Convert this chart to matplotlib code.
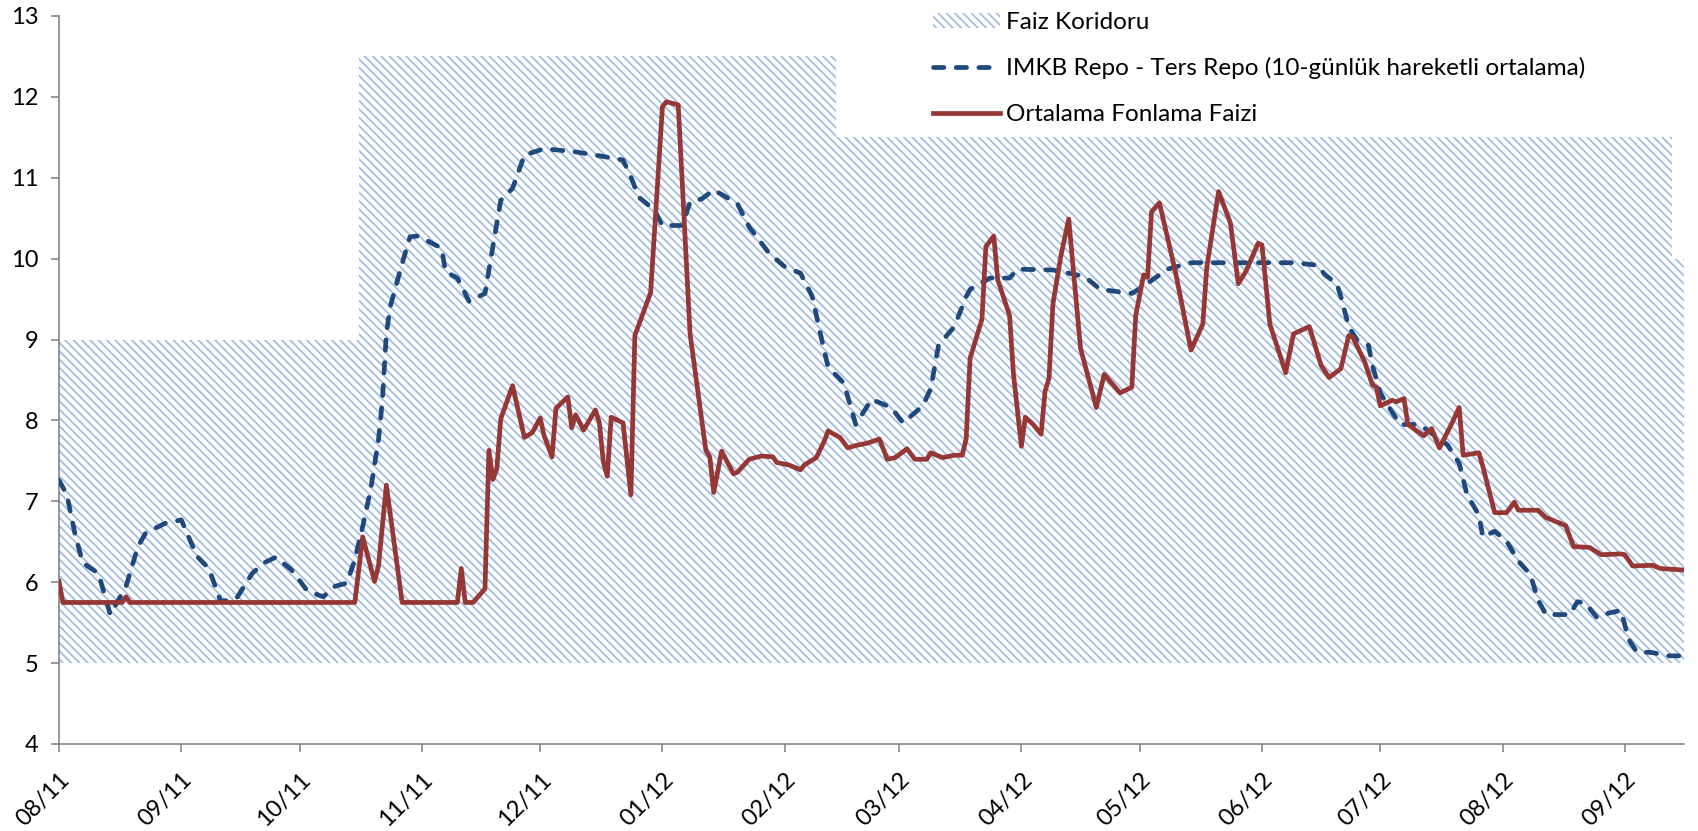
import numpy as np
import matplotlib
matplotlib.use("Agg")
from matplotlib import pyplot as plt
import matplotlib.dates as mdates

plt.rcParams['font.family'] = ['Lato', 'DejaVu Sans']
plt.rcParams['hatch.linewidth'] = 1.3

# Day offsets are counted from 1 Aug 2011
start = np.datetime64('2011-08-01')

# Interest rate corridor (lower 5, upper bound changes step-wise)
corridor_days = [0, 76, 197, 409, 412]
corridor_upper = [9.0, 12.5, 11.5, 10.0, 10.0]
corridor_lower = 5.0

# IMKB Repo - Ters Repo (10-day moving average)
repo_days = [0, 2, 4, 6, 10, 13, 17, 20, 22, 27, 31, 35, 38, 41, 45, 49, 52,
             55, 59, 63, 67, 70, 73, 75, 77, 79, 81, 82, 83, 84, 87, 89, 91,
             97, 98, 101, 104, 108, 110, 112, 115, 118, 123, 131, 136, 143,
             145, 147, 151, 153, 158, 160, 163, 166, 172, 175, 180, 184, 188,
             191, 193, 195, 199, 202, 206, 211, 214, 219, 221, 223, 227, 230,
             231, 236, 241, 243, 252, 260, 264, 272, 275, 279, 281, 287, 313,
             319, 321, 324, 325, 327, 329, 332, 333, 335, 337, 340, 345, 348,
             352, 355, 357, 360, 361, 364, 367, 370, 373, 375, 377, 383, 385,
             387, 390, 393, 396, 398, 400, 404, 408, 412]
repo_vals = [7.26, 7.08, 6.61, 6.24, 6.11, 5.60, 5.95, 6.44, 6.61, 6.73, 6.77,
             6.32, 6.17, 5.76, 5.80, 6.11, 6.24, 6.31, 6.15, 5.89, 5.82, 5.95,
             5.99, 6.28, 6.69, 7.14, 7.76, 8.25, 9.08, 9.41, 9.94, 10.27,
             10.28, 10.13, 9.84, 9.76, 9.47, 9.57, 10.15, 10.72, 10.87, 11.28,
             11.36, 11.32, 11.28, 11.22, 11.01, 10.76, 10.60, 10.41, 10.41,
             10.70, 10.74, 10.85, 10.68, 10.39, 10.07, 9.90, 9.82, 9.53, 9.08,
             8.66, 8.46, 7.95, 8.26, 8.16, 7.97, 8.18, 8.39, 8.93, 9.16, 9.53,
             9.62, 9.76, 9.76, 9.87, 9.86, 9.78, 9.62, 9.57, 9.66, 9.80, 9.87,
             9.95, 9.95, 9.92, 9.80, 9.69, 9.53, 9.16, 9.00, 8.93, 8.68, 8.34,
             8.18, 7.95, 7.95, 7.84, 7.70, 7.47, 7.08, 6.83, 6.56, 6.63, 6.51,
             6.26, 6.10, 5.78, 5.60, 5.60, 5.76, 5.74, 5.56, 5.62, 5.65, 5.29,
             5.14, 5.13, 5.09, 5.09]

# Ortalama Fonlama Faizi
fund_days = [0, 1, 16, 17, 18, 75, 77, 80, 81, 83, 87, 101, 102, 103, 105,
             108, 109, 110, 111, 112, 115, 118, 120, 122, 123, 125, 126, 129,
             130, 131, 133, 136, 137, 138, 139, 140, 143, 145, 146, 150, 153,
             154, 157, 160, 164, 165, 166, 168, 171, 172, 175, 178, 181, 182,
             185, 188, 189, 192, 194, 195, 198, 200, 202, 205, 208, 210, 212,
             215, 217, 220, 221, 224, 227, 229, 230, 231, 234, 235, 237, 238,
             241, 242, 244, 245, 247, 249, 250, 251, 252, 254, 256, 259, 263,
             265, 269, 272, 273, 275, 276, 277, 279, 283, 287, 290, 291, 294,
             297, 299, 301, 304, 305, 307, 311, 313, 317, 320, 322, 325, 327,
             328, 331, 333, 334, 335, 338, 339, 341, 342, 346, 348, 350, 353,
             355, 356, 360, 361, 364, 367, 369, 370, 375, 377, 382, 384, 388,
             391, 396, 397, 399, 404, 406, 412]
fund_vals = [6.01, 5.75, 5.75, 5.82, 5.75, 5.75, 6.56, 6.01, 6.20, 7.20, 5.75,
             5.75, 6.17, 5.75, 5.75, 5.92, 7.63, 7.27, 7.40, 8.02, 8.43, 7.79,
             7.85, 8.03, 7.81, 7.55, 8.15, 8.29, 7.91, 8.07, 7.88, 8.13, 7.97,
             7.49, 7.31, 8.04, 7.97, 7.08, 9.05, 9.58, 11.88, 11.94, 11.90,
             9.07, 7.63, 7.55, 7.11, 7.62, 7.34, 7.36, 7.52, 7.56, 7.55, 7.48,
             7.45, 7.39, 7.45, 7.54, 7.74, 7.87, 7.79, 7.66, 7.69, 7.72, 7.77,
             7.52, 7.54, 7.65, 7.52, 7.52, 7.60, 7.54, 7.57, 7.57, 7.77, 8.77,
             9.25, 10.15, 10.28, 9.74, 9.30, 8.57, 7.68, 8.04, 7.95, 7.83,
             8.36, 8.52, 9.44, 10.03, 10.49, 8.89, 8.16, 8.57, 8.34, 8.41,
             9.30, 9.80, 9.77, 10.58, 10.69, 9.85, 8.87, 9.19, 9.89, 10.83,
             10.44, 9.69, 9.85, 10.19, 10.17, 9.19, 8.59, 9.07, 9.16, 8.68,
             8.53, 8.64, 9.05, 9.03, 8.73, 8.44, 8.41, 8.18, 8.25, 8.23, 8.27,
             7.95, 7.81, 7.90, 7.66, 7.95, 8.16, 7.57, 7.60, 7.43, 6.86, 6.86,
             6.99, 6.89, 6.89, 6.80, 6.70, 6.44, 6.43, 6.34, 6.35, 6.34, 6.20,
             6.21, 6.17, 6.15]


def to_dates(days):
    return start + np.array(days).astype('timedelta64[D]')


hatch_blue = '#A3BCE0'
repo_blue = '#1F497D'
fund_red = '#953735'
axis_grey = '#868686'

fig = plt.figure(figsize=(16.98, 8.31), dpi=100)
ax = fig.add_axes([59 / 1698, 1 - 744 / 831, 1625 / 1698, 728 / 831])

ax.fill_between(to_dates(corridor_days), corridor_lower, corridor_upper,
                step='post', facecolor='white', edgecolor=hatch_blue,
                hatch='\\\\\\\\', linewidth=0, label='Faiz Koridoru', zorder=1)
ax.plot(to_dates(repo_days), repo_vals, color=repo_blue, lw=3.4,
        dashes=(2.2, 2.6), dash_capstyle='round',
        label='IMKB Repo - Ters Repo (10-günlük hareketli ortalama)', zorder=3)
ax.plot(to_dates(fund_days), fund_vals, color=fund_red, lw=3.4,
        solid_joinstyle='round', label='Ortalama Fonlama Faizi', zorder=4)

ax.set_ylim(4, 13)
ax.set_yticks(range(4, 14))
ax.set_xlim(np.datetime64('2011-08-01'), np.datetime64('2012-09-16'))
ax.xaxis.set_major_locator(mdates.MonthLocator())
ax.xaxis.set_major_formatter(mdates.DateFormatter('%m/%y'))

for side in ('top', 'right'):
    ax.spines[side].set_visible(False)
for side in ('left', 'bottom'):
    ax.spines[side].set_color(axis_grey)
    ax.spines[side].set_linewidth(1.2)
ax.tick_params(axis='both', direction='out', length=6, width=1.2,
               color=axis_grey, labelsize=17)
ax.tick_params(axis='y', pad=9)
ax.tick_params(axis='x', pad=12)
for lab in ax.get_xticklabels():
    lab.set_rotation(45)
    lab.set_ha('right')
    lab.set_va('top')
    lab.set_rotation_mode('anchor')

ax.legend(loc='upper left', bbox_to_anchor=(933 / 1698, 1 - 12 / 831),
          bbox_transform=fig.transFigure, frameon=False, fontsize=17.5,
          borderpad=0, borderaxespad=0, handlelength=2.75, handleheight=0.6,
          handletextpad=0.25, labelspacing=1.0)

fig.savefig('out.png', dpi=100)
